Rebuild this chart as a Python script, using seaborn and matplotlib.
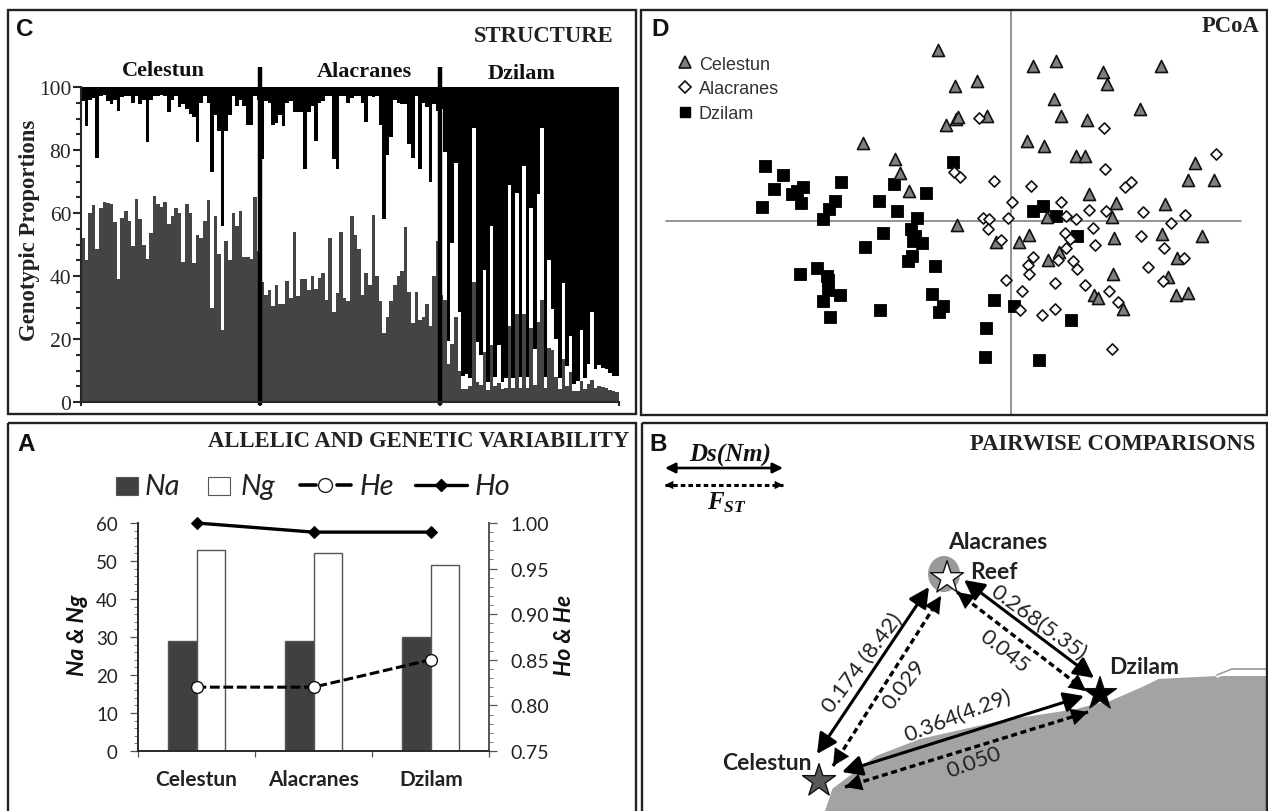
import numpy as np
import pandas as pd
import matplotlib
matplotlib.use("Agg")
import matplotlib.pyplot as plt
import seaborn as sns
from matplotlib.lines import Line2D
from matplotlib.patches import Rectangle, Polygon, Ellipse, FancyArrowPatch
from matplotlib.ticker import MultipleLocator

SERIF = "Liberation Serif"
SANS = "Liberation Sans"
CALIBRI = "Lato"
W, H = 1268, 812

sites = ["Celestun", "Alacranes", "Dzilam"]

# Panel C: top of the dark layer and top of the white layer, one value per individual
celestun_dark = [52, 45, 60, 62.5, 48.5, 61.5, 63.5, 63.3, 63, 57, 39, 58.5, 60.5, 57.5, 49.5, 64.5, 58, 50, 45.5, 53.5,
                 65.5, 63, 62, 63.5, 56.5, 59, 61.5, 60, 44.5, 63, 60, 44, 53, 52, 57.5, 64, 30, 59, 47, 23,
                 51, 45, 60, 56, 60.5, 46, 46, 45.5, 65, 48]
celestun_white = [95.5, 87.5, 96, 96.5, 77.5, 97, 97.5, 95.5, 94.5, 96, 92.5, 96.8, 97, 97, 95, 97, 94.5, 96, 82.5, 96,
                  97, 97.3, 97.5, 97.2, 92, 96, 97, 93.5, 94.5, 93, 91.5, 90.5, 82.5, 95, 97, 95, 73, 91, 86, 56,
                  86, 91, 97, 94, 96, 94, 88, 88, 97, 96]
alacranes_dark = [38, 34, 35.5, 30.5, 37, 31, 31, 38.5, 33, 54, 33.5, 39, 39, 35.5, 40, 36, 39.5,
                  41, 32.5, 52, 28.5, 34.5, 54, 33, 32, 59, 53, 48.7, 34, 41, 37, 59.5, 40, 32, 22, 27,
                  32, 37, 40, 41.5, 55.5, 35, 25, 35, 26, 27, 31, 24, 40, 51]
alacranes_white = [77, 95.5, 95, 88, 88.5, 91, 87.5, 95, 95.5, 92, 92, 92, 74, 92, 94, 83, 95,
                   95.5, 97, 97, 77, 74, 97, 97.3, 95, 96.5, 97, 97, 95, 89, 97, 96.7, 97, 88, 58, 78.5,
                   84, 95.8, 95, 94.7, 94.5, 82, 77.5, 97, 74, 95, 93.5, 70, 94.5, 92.5]
dzilam_dark = [34, 32.5, 12, 18.5, 27, 9.7, 4, 4, 5, 38, 6.5, 5.5, 16, 3.7, 18, 5, 6, 4, 4.3, 24,
               4.3, 28, 4.5, 28, 4.5, 23.5, 5.5, 25.5, 32.5, 4.3, 17, 16.5, 7.8, 4, 13.7, 5, 9.5, 3.5, 3.5, 6.7,
               4, 5.6, 7, 4.5, 5, 4.8, 4.5, 3.8, 3.5, 3.2]
dzilam_white = [93, 79.5, 19.5, 50.5, 76, 28.5, 8.3, 9, 7.5, 87, 19, 15, 42, 6.5, 56, 7.8, 18, 6.3, 7.7, 69,
                7.7, 66.5, 8, 75, 8, 61.5, 16.7, 66, 87, 8, 45, 29.5, 20, 7.5, 37.7, 11.5, 21, 5.6, 6.7, 23,
                7.7, 12, 28.6, 10.4, 11.6, 10.9, 10.4, 9.3, 8.2, 8.2]

# Panel D: ordination scores (arbitrary units)
dzilam_xy = [(-739, 163), (-685, 136), (-713, 96), (-624, 101), (-644, 90), (-657, 79), (-630, 53), (-749, 42),
             (-511, 115), (-529, 59), (-548, 35), (-565, 5), (-352, 109), (-396, 60), (-342, 28), (-257, 83),
             (-282, 9), (-302, -26), (-384, -38), (-290, -45), (-294, -60), (-267, -68), (-439, -78), (-297, -106),
             (-309, -121), (-228, -137), (-634, -161), (-584, -142), (-552, -165), (-551, -177), (-551, -207),
             (-514, -224), (-565, -240), (-543, -290), (-394, -267), (-239, -221), (-206, -255), (-217, -275),
             (-174, 175), (66, 28), (96, 45), (134, 13), (197, -47), (-53, -238), (9, -255), (-77, -322),
             (-78, -409), (82, -418), (180, -298)]
celestun_xy = [(-221, 513), (-169, 405), (-197, 287), (-166, 305), (-446, 232), (-348, 185), (-333, 142), (-307, 89),
               (-164, -12), (-104, 419), (-160, 312), (-74, 315), (66, 465), (135, 478), (276, 447), (288, 410),
               (448, 463), (128, 365), (149, 315), (228, 303), (386, 335), (46, 240), (99, 223), (194, 193),
               (222, 193), (550, 173), (531, 122), (608, 122), (232, 79), (313, 53), (461, 50), (108, 10), (302, 12),
               (53, -43), (22, -65), (-46, -65), (308, -52), (452, -40), (571, -45), (144, -95), (111, -117),
               (496, -111), (304, -161), (471, -170), (495, -223), (531, -217), (249, -223), (261, -231), (334, -266)]
alacranes_xy = [(-96, 308), (277, 278), (614, 199), (282, 154), (-51, 118), (59, 105), (358, 115), (341, 100),
                (-172, 147), (-154, 132), (3, 57), (150, 56), (233, 31), (283, 28), (394, 25), (521, 16), (-86, 7),
                (-66, 5), (-11, 8), (165, 13), (193, 4), (478, -6), (-71, -25), (245, -23), (160, -37), (-31, -57),
                (177, -55), (390, -46), (250, -74), (457, -81), (163, -83), (66, -110), (141, -118), (519, -111),
                (184, -121), (51, -134), (197, -144), (409, -140), (52, -161), (-16, -177), (131, -186), (454, -182),
                (222, -194), (33, -211), (292, -212), (321, -245), (26, -269), (132, -265), (91, -284), (301, -385)]

# Panel A
na_values = [29, 29, 30]
ng_values = [53, 52, 49]
he_values = [0.82, 0.82, 0.85]
ho_values = [1.00, 0.99, 0.99]

# Panel B: schematic map, in picture pixels
coast_x = [824, 832, 876, 920, 1000, 1076, 1108, 1140, 1157, 1217, 1268, 1268, 824]
coast_y = [812, 790, 757, 740, 722, 710, 702, 688, 680, 677, 677, 812, 812]
star_x = [819, 947, 1100]
star_y = [782, 579, 695]
solid_links = [((817, 755), (929, 588), "0.174 (8.42)", (862, 663), 53),
               ((964, 581), (1094, 679), "0.268(5.35)", (1038, 623), -36),
               ((842, 773), (1084, 697), "0.364(4.29)", (958, 716), 21)]
dashed_links = [((833, 767), (941, 597), "0.029", (904, 685), 52),
                ((957, 593), (1086, 692), "0.045", (1004, 652), -38),
                ((845, 788), (1088, 713), "0.050", (974, 763), 20)]

BIG_HEAD = "<|-|>,head_length=0.55,head_width=0.28"


def axes_px(fig, x0, y0, x1, y1, **kwargs):
    return fig.add_axes([x0 / W, 1 - y1 / H, (x1 - x0) / W, (y1 - y0) / H], **kwargs)


def plot_structure(ax):
    dark = celestun_dark + alacranes_dark + dzilam_dark
    white = celestun_white + alacranes_white + dzilam_white
    df = pd.DataFrame({"ind": np.arange(len(dark)), "dark": dark, "white": white, "full": 100})
    opts = dict(data=df, x="ind", width=1, linewidth=0, saturation=1, errorbar=None, antialiased=False, ax=ax)
    sns.barplot(y="full", color="black", **opts)
    sns.barplot(y="white", color="white", **opts)
    sns.barplot(y="dark", color="#444444", **opts)
    n = len(celestun_dark)
    edges = [-0.5, n - 0.5, 2 * n - 0.5, 3 * n - 0.5]
    for x in edges[1:3]:
        ax.plot([x, x], [-1, 106.3], color="black", lw=3.2, clip_on=False, solid_capstyle="butt")
    ax.set_xlim(edges[0], edges[-1])
    ax.set_ylim(0, 100)
    ax.set_xticks(edges)
    ax.set_xticklabels([])
    ax.set_yticks(range(0, 101, 20))
    ax.yaxis.set_minor_locator(MultipleLocator(5))
    ax.tick_params(axis="y", which="major", length=6, width=1.5, labelsize=15.5, pad=1)
    ax.tick_params(axis="y", which="minor", length=3.5, width=1.5)
    ax.tick_params(axis="x", length=3, width=1.5)
    for label in ax.get_yticklabels():
        label.set_family(SERIF)
    ax.set_xlabel("")
    ax.set_ylabel("")
    sns.despine(ax=ax, top=True, right=True)
    ax.spines["left"].set_linewidth(1.5)
    ax.spines["bottom"].set_linewidth(1.5)


def plot_pcoa(ax):
    ax.set_xlim(-1114, 767)
    ax.set_ylim(-583, 635)
    ax.axis("off")
    ax.plot([-1036, 689], [0, 0], color="#777777", lw=1.1, zorder=1)
    ax.plot([0, 0], [-583, 635], color="#777777", lw=1.1, zorder=1)
    squares = pd.DataFrame(dzilam_xy, columns=["x", "y"])
    triangles = pd.DataFrame(celestun_xy, columns=["x", "y"])
    diamonds = pd.DataFrame(alacranes_xy, columns=["x", "y"])
    sns.scatterplot(data=squares, x="x", y="y", marker="s", s=72, color="black", edgecolor="black", lw=0.6,
                    ax=ax, zorder=3)
    sns.scatterplot(data=triangles, x="x", y="y", marker="^", s=75, color="#7f7f7f", edgecolor="#111111", lw=1.2,
                    ax=ax, zorder=4)
    sns.scatterplot(data=diamonds, x="x", y="y", marker="D", s=32, color="white", edgecolor="#111111", lw=1.2,
                    ax=ax, zorder=5)
    ax.set_xlabel("")
    ax.set_ylabel("")
    handles = [Line2D([], [], ls="", marker="^", ms=8.5, mfc="#7f7f7f", mec="#111111", mew=1.2, label="Celestun"),
               Line2D([], [], ls="", marker="D", ms=6, mfc="white", mec="#111111", mew=1.2, label="Alacranes"),
               Line2D([], [], ls="", marker="s", ms=7, mfc="black", mec="black", label="Dzilam")]
    ax.legend(handles=handles, loc="upper left", bbox_to_anchor=(0.032, 0.925), frameon=False, handlelength=1.0,
              handletextpad=0.25, labelspacing=0.42, prop={"family": SANS, "size": 13}, labelcolor="#333333")


def plot_variability(ax):
    long_df = pd.DataFrame({"site": sites * 2,
                            "count": na_values + ng_values,
                            "kind": ["Na"] * 3 + ["Ng"] * 3})
    sns.barplot(data=long_df, x="site", y="count", hue="kind", palette={"Na": "#404040", "Ng": "white"},
                width=0.48, gap=0, saturation=1, edgecolor="#555555", linewidth=1, legend=False, errorbar=None, ax=ax)
    ax.set_ylim(0, 60)
    ax.set_xlim(-0.5, 2.5)
    ax.set_xticks([-0.5, 0.5, 1.5, 2.5])
    ax.set_xticklabels([])
    ax.set_yticks(range(0, 61, 10))
    ax.yaxis.set_minor_locator(MultipleLocator(2))
    ax.tick_params(axis="y", which="major", length=5.5, width=0.9, color="#555555", labelsize=13.5, pad=9,
                   labelcolor="#222222")
    ax.tick_params(axis="y", which="minor", length=3, width=0.7, color="#777777")
    ax.tick_params(axis="x", length=4, width=0.9, color="#555555")
    for label in ax.get_yticklabels():
        label.set_family(CALIBRI)
    ax.set_xlabel("")
    ax.set_ylabel("")
    ax.spines["top"].set_visible(False)
    ax.spines["left"].set_color("#555555")
    ax.spines["bottom"].set_color("#555555")
    ax.spines["right"].set_color("#555555")

    pos = np.arange(len(sites))
    ax2 = ax.twinx()
    sns.lineplot(x=pos, y=he_values, color="black", lw=2.2, marker="o", ms=8.5, mfc="white", mec="#111111", mew=1,
                 dashes=(3.2, 1.2), errorbar=None, clip_on=False, ax=ax2, zorder=4)
    sns.lineplot(x=pos, y=ho_values, color="black", lw=2.4, marker="D", ms=6.5, mfc="black", mec="black",
                 errorbar=None, clip_on=False, ax=ax2, zorder=4)
    ax2.set_ylim(0.75, 1.0)
    ax2.set_yticks([0.75, 0.80, 0.85, 0.90, 0.95, 1.00])
    ax2.set_yticklabels([f"{t:.2f}" for t in [0.75, 0.80, 0.85, 0.90, 0.95, 1.00]], family=CALIBRI)
    ax2.yaxis.set_minor_locator(MultipleLocator(0.01))
    ax2.tick_params(axis="y", which="major", length=5.5, width=0.9, color="#555555", labelsize=14, pad=10,
                    labelcolor="#222222")
    ax2.tick_params(axis="y", which="minor", length=3, width=0.7, color="#777777")
    ax2.set_ylabel("")
    ax2.spines["top"].set_visible(False)
    ax2.spines["right"].set_color("#555555")


def plot_map(ax):
    ax.set_xlim(640, 1268)
    ax.set_ylim(812, 423)
    ax.axis("off")
    ax.add_patch(Polygon(list(zip(coast_x, coast_y)), closed=True, fc="#a3a3a3", ec="none", zorder=1))
    ax.plot([1217, 1232, 1268], [676, 670, 670], color="#999999", lw=1.2, zorder=1)
    ax.plot([1217, 1232, 1268], [678, 672, 672], color="white", lw=1.2, zorder=1)
    ax.plot([1108, 1140, 1157], [702, 688, 680], color="white", lw=1.2, zorder=1)
    ax.plot([824, 832, 845], [812, 788, 775], color="white", lw=1.4, zorder=1)
    ax.add_patch(Ellipse((944, 575), 32, 36, fc="#999999", ec="none", zorder=1))

    for start, end, text, centre, angle in solid_links:
        ax.add_patch(FancyArrowPatch(start, end, arrowstyle=BIG_HEAD, mutation_scale=22, lw=2.2, color="black",
                                     shrinkA=0, shrinkB=0, zorder=3))
        ax.text(*centre, text, rotation=angle, rotation_mode="anchor", ha="center", va="center",
                family=CALIBRI, fontsize=16, color="#222222", zorder=5)
    for start, end, text, centre, angle in dashed_links:
        ax.plot(*zip(start, end), color="black", lw=2.4, ls=(0, (1.8, 1.1)), zorder=3)
        ax.add_patch(FancyArrowPatch(start, end, arrowstyle=BIG_HEAD, mutation_scale=22, lw=0, color="black",
                                     shrinkA=0, shrinkB=0, zorder=3))
        ax.text(*centre, text, rotation=angle, rotation_mode="anchor", ha="center", va="center",
                family=CALIBRI, fontsize=16, color="#222222", zorder=5)

    sns.scatterplot(x=star_x, y=star_y, hue=sites, palette={"Celestun": "#595959", "Alacranes": "white",
                                                            "Dzilam": "black"},
                    marker="*", s=620, edgecolor="#111111", linewidth=1, legend=False, ax=ax, zorder=6)
    ax.set_xlim(640, 1268)
    ax.set_ylim(812, 423)

    # key
    ax.add_patch(FancyArrowPatch((665, 469), (783, 469), arrowstyle="<|-|>", mutation_scale=15, lw=1.9, color="black",
                                 shrinkA=0, shrinkB=0))
    ax.plot([665, 783], [486, 486], color="black", lw=2.2, ls=(0, (1.5, 1)))
    ax.add_patch(FancyArrowPatch((665, 486), (783, 486), arrowstyle="<|-|>", mutation_scale=15, lw=0, color="black",
                                 shrinkA=0, shrinkB=0))


def main():
    sns.set_theme(style="ticks")
    plt.rcParams["font.family"] = [SANS, "DejaVu Sans"]
    plt.rcParams["mathtext.fontset"] = "custom"
    plt.rcParams["mathtext.it"] = "Liberation Serif:italic:bold"
    plt.rcParams["mathtext.rm"] = "Liberation Serif:bold"

    fig = plt.figure(figsize=(W / 100, H / 100), dpi=100, facecolor="white")

    ax_c = axes_px(fig, 81, 88, 619, 403)
    ax_d = axes_px(fig, 640, 10, 1267, 416)
    ax_a = axes_px(fig, 138, 524, 489, 752)
    ax_b = axes_px(fig, 640, 423, 1268, 812)
    plot_structure(ax_c)
    plot_pcoa(ax_d)
    plot_variability(ax_a)
    plot_map(ax_b)

    # overlay in picture pixels for frames, titles and hand-placed legend
    ov = fig.add_axes([0, 0, 1, 1], zorder=10)
    ov.set_xlim(0, W)
    ov.set_ylim(H, 0)
    ov.axis("off")
    ov.patch.set_alpha(0)
    for x0, y0, x1, y1 in [(8, 10.5, 636, 415), (641, 10.5, 1267, 416), (8, 423.5, 636, 820), (642, 423.5, 1267, 820)]:
        ov.add_patch(Rectangle((x0, y0), x1 - x0, y1 - y0, fc="none", ec="#222222", lw=1.7))

    for letter, x, y in [("C", 25, 30), ("D", 660, 29), ("A", 26, 445), ("B", 658, 445)]:
        ov.text(x, y, letter, family=SANS, weight="bold", fontsize=17.5, ha="center", va="center", color="#111111")
    titles = [("STRUCTURE", 614, 37), ("PCoA", 1260, 26), ("ALLELIC AND GENETIC VARIABILITY", 629, 442),
              ("PAIRWISE COMPARISONS", 1255, 445)]
    for text, x, y in titles:
        ov.text(x, y, text, family=SERIF, weight="bold", fontsize=16.3, ha="right", va="center", color="#222222")

    for text, x, y in [("Celestun", 163, 71), ("Alacranes", 364, 72), ("Dzilam", 522, 74)]:
        ov.text(x, y, text, family=SERIF, weight="bold", fontsize=16, ha="center", va="center", color="#111111")
    ov.text(30, 230, "Genotypic Proportions", family=SERIF, weight="bold", fontsize=16.4, rotation=90,
            ha="center", va="center", color="#222222")

    # panel A legend and labels
    ov.add_patch(Rectangle((116, 478), 21.5, 18, fc="#404040", ec="#555555", lw=0.8))
    ov.add_patch(Rectangle((208, 478), 22, 18, fc="white", ec="#555555", lw=0.8))
    ov.plot([300, 316], [486, 486], color="black", lw=2.6)
    ov.plot([337, 351], [486, 486], color="black", lw=2.6)
    ov.plot([325], [486], marker="o", ms=10, mfc="white", mec="#222222", mew=1)
    ov.plot([415, 467], [486, 486], color="black", lw=2.4)
    ov.plot([441], [486], marker="D", ms=6.5, color="black")
    for text, x in [("Na", 145), ("Ng", 241), ("He", 360), ("Ho", 475)]:
        ov.text(x, 487, text, family=CALIBRI, style="italic", fontsize=21, ha="left", va="center", color="#222222")
    for text, x in zip(sites, [196.5, 314, 431]):
        ov.text(x, 780, text, family=CALIBRI, weight="bold", fontsize=15, ha="center", va="center", color="#222222")
    ov.text(77.5, 635, "Na & Ng", family=CALIBRI, weight="bold", style="italic", fontsize=16.5, rotation=90,
            ha="center", va="center", color="#111111")
    ov.text(564.5, 635, "Ho & He", family=CALIBRI, weight="bold", style="italic", fontsize=16.5, rotation=90,
            ha="center", va="center", color="#111111")

    # panel B labels
    ov.text(730, 455, "Ds(Nm)", family=SERIF, weight="bold", style="italic", fontsize=18, ha="center", va="center",
            color="#111111")
    ov.text(727, 503, "$F_{ST}$", fontsize=18, ha="center", va="center", color="#111111")
    for text, x, y in [("Alacranes", 998, 543), ("Reef", 994, 573), ("Dzilam", 1144, 668), ("Celestun", 767, 764)]:
        ov.text(x, y, text, family=CALIBRI, weight="bold", fontsize=16.5, ha="center", va="center", color="#222222")

    fig.savefig("out.png", dpi=100, facecolor="white")


if __name__ == "__main__":
    main()
